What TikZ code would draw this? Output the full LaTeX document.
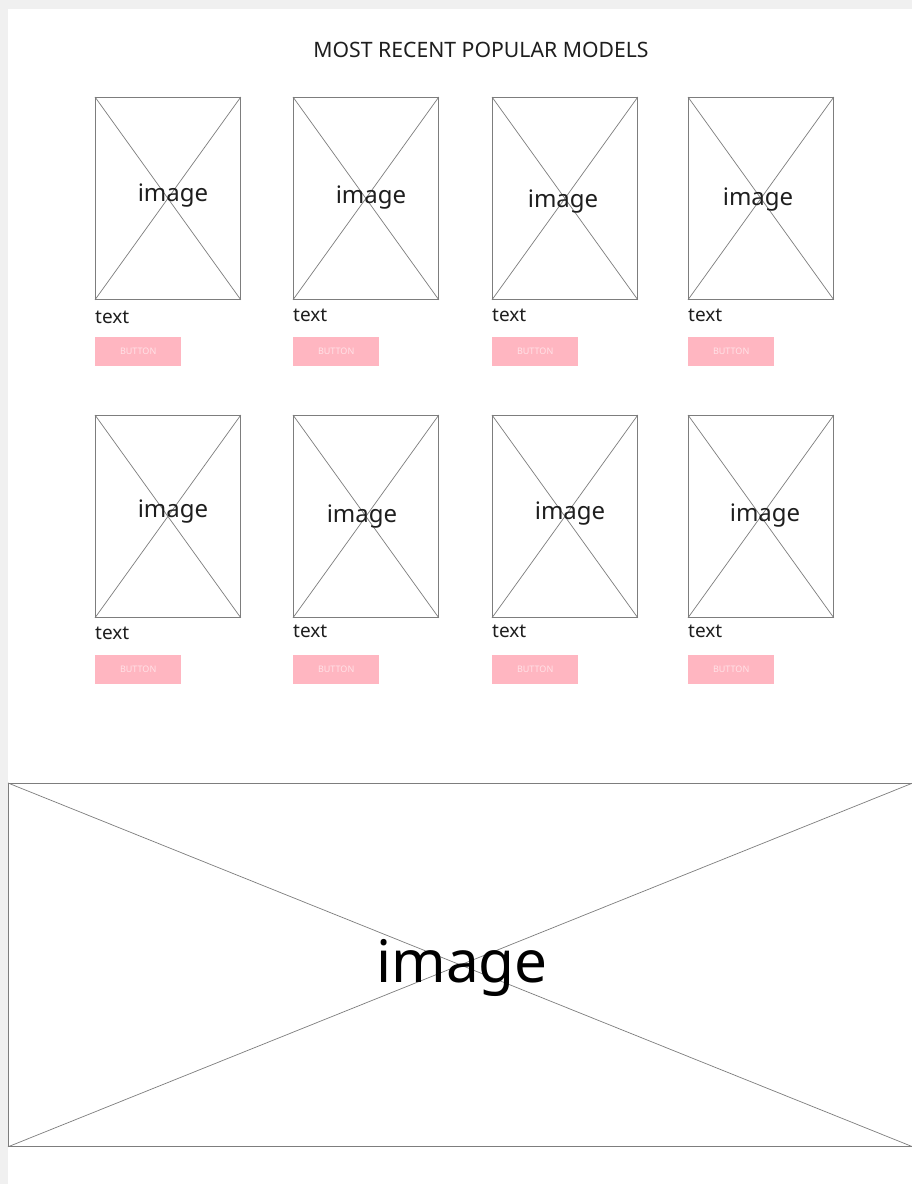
\documentclass[tikz,border=0pt]{standalone}
\usepackage{fontspec}
\setmainfont{Noto Sans}
\usepackage{tikz}

\definecolor{pagegray}{RGB}{240,240,240}
\definecolor{wireline}{RGB}{125,125,125}
\definecolor{btnpink}{RGB}{255,182,193}
\definecolor{btntext}{RGB}{255,226,231}
\definecolor{inkdark}{RGB}{30,30,30}

\begin{document}
\begin{tikzpicture}[
        x=1pt, y=-1pt,
        card/.style={draw=wireline, line width=0.8pt, rectangle, inner sep=0pt, anchor=north west,
            minimum width=145pt, minimum height=202pt},
        cross/.style={draw=wireline, line width=0.7pt},
        imglabel/.style={inner sep=0pt, text=inkdark, font=\fontsize{24}{28}\selectfont},
        caption/.style={inner sep=0pt, anchor=west, text=inkdark, font=\fontsize{19}{23}\selectfont},
        btn/.style={fill=btnpink, inner sep=0pt, anchor=north west, minimum width=86pt, minimum height=29pt,
            text=btntext, font=\fontsize{9}{11}\selectfont}
    ]
        \useasboundingbox (0,0) rectangle (912,1184);
        \fill[pagegray] (0,0) rectangle (912,1184);
        \fill[white] (8,9) rectangle (912,1184);

        \node[inner sep=0pt, text=inkdark, font=\fontsize{21.2}{25}\selectfont] (title) at (481,50) {MOST RECENT POPULAR MODELS};

        % card number / corner / label position / caption line
        \foreach \n/\x/\y/\lx/\ly/\ty in {
            1/95/97/173/196/317, 2/293/97/371/198/315, 3/492/97/563/202/315, 4/688/97/758/200/315,
            5/95/415/173/512/633, 6/293/415/362/517/631, 7/492/415/570/514/631, 8/688/415/765/516/631} {
            \node[card] (card\n) at (\x,\y) {};
            \draw[cross] (card\n.north west) -- (card\n.south east) (card\n.north east) -- (card\n.south west);
            \node[imglabel] (lbl\n) at (\lx,\ly) {image};
            \node[caption] (txt\n) at (\x,\ty) {text};
            \node[btn] (btn\n) at (\x,\y+240) {BUTTON};
        }

        \node[card, minimum width=904pt, minimum height=363pt] (banner) at (8,783) {};
        \draw[cross] (banner.north west) -- (banner.south east) (banner.north east) -- (banner.south west);
        \node[inner sep=0pt, text=black, font=\fontsize{58.5}{64}\selectfont] (bannerlbl) at (462,968) {image};
    \end{tikzpicture}
\end{document}
